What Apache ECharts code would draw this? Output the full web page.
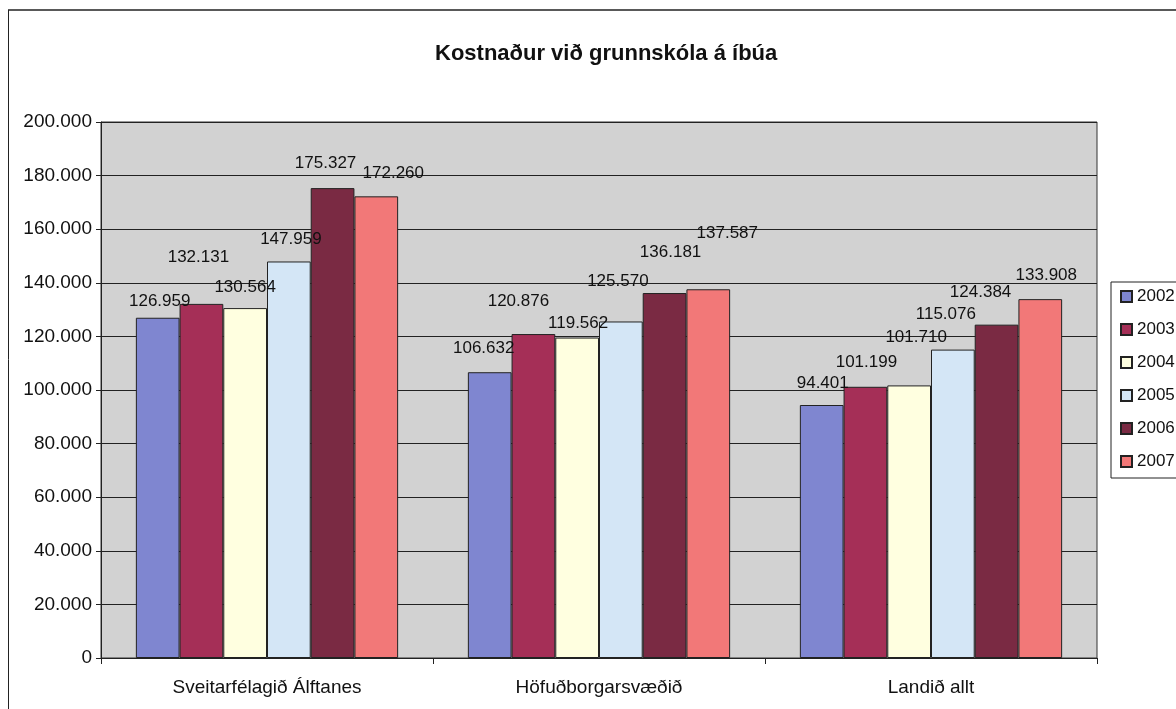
<!DOCTYPE html>
<html><head><meta charset="utf-8">
<script src="https://cdn.jsdelivr.net/npm/echarts@6/dist/echarts.min.js"></script>
<style>html,body{margin:0;padding:0;background:#fff}#c{width:1176px;height:709px}</style>
</head><body><div id="c"></div>
<script>
const categories = ['Sveitarfélagið Álftanes', 'Höfuðborgarsvæðið', 'Landið allt'];
const years = ['2002', '2003', '2004', '2005', '2006', '2007'];
const v2002 = [126959, 106632, 94401];
const v2003 = [132131, 120876, 101199];
const v2004 = [130564, 119562, 101710];
const v2005 = [147959, 125570, 115076];
const v2006 = [175327, 136181, 124384];
const v2007 = [172260, 137587, 133908];
const yTicks = [0, 20000, 40000, 60000, 80000, 100000, 120000, 140000, 160000, 180000, 200000];

// label nudges [dx, rise above bar top to label centre], per year then category (as placed in the original)
const labelNudge = [
  [[2, 16], [-6, 24], [1, 22]],
  [[-3, 47], [-15, 33], [1, 24]],
  [[0, 21], [1, 14], [7, 48]],
  [[2, 22], [-3, 40], [-7, 35]],
  [[-7, 25], [6, 41], [-16, 32]],
  [[17, 23], [19, 56], [6, 24]]
];

const seriesValues = [v2002, v2003, v2004, v2005, v2006, v2007];
const colors = ['#7f86d0', '#a52f57', '#ffffe0', '#d4e6f6', '#7a2a43', '#f27878'];
const fmt = v => String(v).replace(/\B(?=(\d{3})+(?!\d))/g, '.');
const FONT = 'Liberation Sans, Arial, sans-serif';
const LFS = 17;

const chart = echarts.init(document.getElementById('c'), null, {renderer: 'canvas'});
chart.setOption({
  backgroundColor: '#fff',
  animation: false,
  color: colors,
  title: {
    text: 'Kostnaður við grunnskóla á íbúa',
    left: 430, top: 38,
    textStyle: {fontFamily: FONT, fontSize: 22, fontWeight: 'bold', color: '#111'}
  },
  legend: {
    orient: 'vertical', left: 1111, top: 282,
    itemWidth: 11, itemHeight: 11, itemGap: 16,
    padding: [6, 10, 8, 9],
    borderColor: '#222', borderWidth: 1,
    icon: 'rect',
    textStyle: {fontFamily: FONT, fontSize: 17, color: '#111'},
    data: years
  },
  graphic: [
    {type: 'line', shape: {x1: 8, y1: 10, x2: 1176, y2: 10}, style: {stroke: '#222', lineWidth: 1.5}},
    {type: 'line', shape: {x1: 8.5, y1: 10, x2: 8.5, y2: 709}, style: {stroke: '#222', lineWidth: 1}}
  ],
  grid: {
    left: 101, right: 79, top: 122, bottom: 51,
    show: true, backgroundColor: '#d2d2d2', borderColor: '#333', borderWidth: 1
  },
  xAxis: {
    type: 'category', data: categories,
    axisLine: {lineStyle: {color: '#222'}},
    axisTick: {show: true, length: 6, lineStyle: {color: '#222'}},
    axisLabel: {fontFamily: FONT, fontSize: 19, color: '#111', margin: 20}
  },
  yAxis: {
    type: 'value', min: 0, max: 200000, interval: 20000,
    axisLine: {show: true, lineStyle: {color: '#222'}},
    axisTick: {show: true, length: 5, lineStyle: {color: '#222'}},
    splitLine: {show: true, lineStyle: {color: '#222', width: 1}},
    axisLabel: {fontFamily: FONT, fontSize: 19, color: '#111', margin: 9,
      formatter: v => yTicks.includes(v) ? fmt(v) : ''}
  },
  series: seriesValues.map((vals, i) => ({
    name: years[i], type: 'bar',
    data: vals.map((v, j) => ({
      value: v,
      label: {offset: [labelNudge[i][j][0], -(labelNudge[i][j][1] - LFS / 2)]}
    })),
    barGap: '0%', barCategoryGap: '21%',
    itemStyle: {color: colors[i], borderColor: '#222', borderWidth: 1},
    label: {show: true, position: 'top', distance: 0, formatter: p => fmt(p.value),
      fontFamily: FONT, fontSize: LFS, color: '#111'}
  }))
});
</script></body></html>
